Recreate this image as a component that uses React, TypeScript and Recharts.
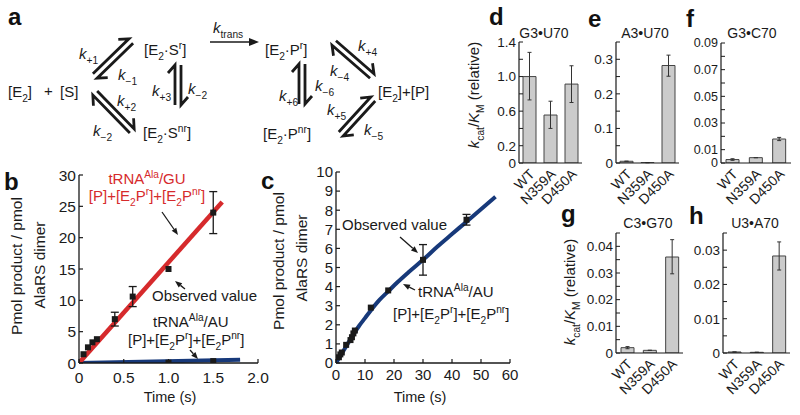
import React from "react";
import { ComposedChart, BarChart, Bar, Line, Scatter, XAxis, YAxis, ErrorBar } from "recharts";

const FONT = '"Liberation Sans", Arial, Helvetica, sans-serif';
const RED = "#d62a2c";
const NAVY = "#17397a";
const INK = "#1a1a1a";

// ---------- panel b (tRNA GU vs AU, 0-2 s) ----------
const bTimeTicks = [0, 0.5, 1, 1.5, 2];
const bYTicks = [0, 5, 10, 15, 20, 25, 30];
const bGuFit = [{ t: 0, v: 0 }, { t: 1.6, v: 25.7 }];
const bAuFit = [{ t: 0, v: 0 }, { t: 1.8, v: 0.5 }];
const bGuObs = [
  { t: 0.05, v: 1.4 }, { t: 0.1, v: 2.5 }, { t: 0.15, v: 3.3 }, { t: 0.2, v: 3.8 }, { t: 1.0, v: 15.0 },
];
const bGuObsErr = [
  { t: 0.4, v: 7.0, err: 1.1 }, { t: 0.6, v: 10.6, err: 1.6 }, { t: 1.5, v: 24.0, err: 3.35 },
];
const bAuObs = [{ t: 1.0, v: 0.05 }, { t: 1.5, v: 0.3 }];

// ---------- panel c (tRNA AU, 0-60 s) ----------
const cTimeTicks = [0, 10, 20, 30, 40, 50, 60];
const cYTicks = [0, 1, 2, 3, 4, 5, 6, 7, 8, 9, 10];
const cAuFit = [
  { t: 0, v: 0 }, { t: 2, v: 0.5 }, { t: 4, v: 1.0 }, { t: 6, v: 1.5 }, { t: 8, v: 1.95 },
  { t: 10, v: 2.35 }, { t: 12, v: 2.75 }, { t: 15, v: 3.3 }, { t: 18, v: 3.75 }, { t: 21, v: 4.2 },
  { t: 25, v: 4.75 }, { t: 30, v: 5.4 }, { t: 35, v: 6.1 }, { t: 40, v: 6.75 }, { t: 45, v: 7.4 },
  { t: 50, v: 8.05 }, { t: 55, v: 8.7 },
];
const cAuObs = [
  { t: 1, v: 0.3 }, { t: 1.5, v: 0.45 }, { t: 2, v: 0.55 }, { t: 3.5, v: 0.95 }, { t: 5, v: 1.2 },
  { t: 5.5, v: 1.35 }, { t: 6, v: 1.55 }, { t: 6.5, v: 1.7 }, { t: 12, v: 2.9 }, { t: 18, v: 3.8 },
];
const cAuObsErr = [{ t: 30, v: 5.4, err: 0.8 }, { t: 45, v: 7.5, err: 0.28 }];

// ---------- bar panels d-h ----------
const mutants = ["WT", "N359A", "D450A"];
const dVals = [1.0, 0.555, 0.913];
const dErr = [[0.27, 0.28], [0.155, 0.16], [0.213, 0.212]];
const dTicks = [0, 0.2, 0.4, 0.6, 0.8, 1.0, 1.2, 1.4];
const dTickText = ["0", "0.2", "", "0.6", "", "1.0", "", "1.4"];

const eVals = [0.005, 0.001, 0.282];
const eErr = [[0, 0], [0, 0], [0.031, 0.03]];
const eTicks = [0, 0.05, 0.1, 0.15, 0.2, 0.25, 0.3, 0.35];
const eTickText = ["0", "", "0.1", "", "0.2", "", "0.3", ""];

const fVals = [0.0026, 0.004, 0.018];
const fErr = [[0.0006, 0.0006], [0, 0], [0.0012, 0.0012]];
const fTicks = [0, 0.01, 0.02, 0.03, 0.04, 0.05, 0.06, 0.07, 0.08, 0.09];
const fTickText = ["0", "0.01", "", "0.03", "", "0.05", "", "0.07", "", "0.09"];

const gVals = [0.002, 0.001, 0.036];
const gErr = [[0.0004, 0.0004], [0, 0], [0.0063, 0.0065]];
const gTicks = [0, 0.005, 0.01, 0.015, 0.02, 0.025, 0.03, 0.035, 0.04, 0.045];
const gTickText = ["0", "", "0.01", "", "0.02", "", "0.03", "", "0.04", ""];

const hVals = [0.0003, 0.0002, 0.0283];
const hErr = [[0, 0], [0, 0], [0.0041, 0.0041]];
const hTicks = [0, 0.005, 0.01, 0.015, 0.02, 0.025, 0.03, 0.035];
const hTickText = ["0", "", "0.01", "", "0.02", "", "0.03", ""];

// ---------- helpers ----------
type Plot = { l: number; r: number; t: number; b: number };
const MT = 10, MR = 15;

function place(p: Plot, yw: number, xh: number) {
  return {
    style: { position: "absolute" as const, left: p.l - yw, top: p.t - MT },
    width: p.r - p.l + yw + MR,
    height: p.b - p.t + MT + xh,
  };
}

const Square = (props: any) => {
  const { cx, cy } = props;
  if (cx == null || cy == null) return null;
  return <rect x={cx - 3} y={cy - 3} width={6} height={6} fill={INK} />;
};

const RotTick = (props: any) => {
  const { x, y, payload } = props;
  const ax = x + 6, ay = y + 12;
  return (
    <text x={ax} y={ay} transform={`rotate(-45, ${ax}, ${ay})`} textAnchor="end"
      fontSize={14} fontFamily={FONT} fill={INK}>{payload.value}</text>
  );
};

function BarPanel(props: { plot: Plot; vals: number[]; errs: number[][]; ticks: number[]; text: string[]; fs?: number }) {
  const { plot, vals, errs, ticks, text, fs = 13.5 } = props;
  const data = mutants.map((name, i) => ({ name, v: vals[i], e: errs[i] }));
  const yw = 40, xh = 50;
  const pl = place(plot, yw, xh);
  return (
    <div style={pl.style}>
      <BarChart width={pl.width} height={pl.height} data={data}
        margin={{ top: MT, right: MR, left: 0, bottom: 0 }} barCategoryGap="20%">
        <XAxis dataKey="name" type="category" height={xh} interval={0} tickLine={false}
          tickSize={0} tickMargin={0} tick={<RotTick />} axisLine={{ stroke: INK, strokeWidth: 1.2 }} />
        <YAxis width={yw} type="number" domain={[ticks[0], ticks[ticks.length - 1]]} ticks={ticks}
          allowDataOverflow interval={0} tickSize={-4} tickMargin={7}
          tickFormatter={(v: number) => { const i = ticks.findIndex((t) => Math.abs(t - v) < 1e-9); return i >= 0 ? text[i] : ""; }}
          tick={{ fontSize: fs, fontFamily: FONT, fill: INK }}
          axisLine={{ stroke: INK, strokeWidth: 1.2 }} tickLine={{ stroke: INK, strokeWidth: 1 }} />
        <Bar dataKey="v" fill="#cbcbcb" stroke="#444" strokeWidth={1} barSize={13} isAnimationActive={false}>
          <ErrorBar dataKey="e" direction="y" width={2} stroke="#333" strokeWidth={1} />
        </Bar>
      </BarChart>
    </div>
  );
}

type Part = [string, string?];
function Rich(props: { x: number; y: number; parts: Part[]; size?: number; fill?: string; anchor?: string; transform?: string; weight?: string }) {
  const { x, y, parts, size = 15, fill = INK, anchor = "start", transform, weight } = props;
  let cur = 0;
  return (
    <text x={x} y={y} fontSize={size} fill={fill} textAnchor={anchor as any} fontFamily={FONT}
      transform={transform} fontWeight={weight}>
      {parts.map(([s, k = "n"], i) => {
        const small = k === "sub" || k === "sup";
        const target = k === "sub" ? size * 0.3 : k === "sup" ? -size * 0.4 : 0;
        const dy = target - cur;
        cur = target;
        return (
          <tspan key={i} dy={dy} fontSize={small ? size * 0.68 : size} fontStyle={k === "i" ? "italic" : "normal"}>{s}</tspan>
        );
      })}
    </text>
  );
}

function Harpoons({ x1, y1, x2, y2, gap = 6 }: { x1: number; y1: number; x2: number; y2: number; gap?: number }) {
  const dx = x2 - x1, dy = y2 - y1;
  const len = Math.hypot(dx, dy);
  const ux = dx / len, uy = dy / len;
  const nx = -uy, ny = ux;
  const g = gap / 2, L = 8, W = 7;
  const pA = [x1 - nx * g, y1 - ny * g], pB = [x2 - nx * g, y2 - ny * g];
  const qA = [x1 + nx * g, y1 + ny * g], qB = [x2 + nx * g, y2 + ny * g];
  const pBarb = [pB[0] - ux * L - nx * W, pB[1] - uy * L - ny * W];
  const qBarb = [qA[0] + ux * L + nx * W, qA[1] + uy * L + ny * W];
  const d = `M${pA[0]},${pA[1]} L${pB[0]},${pB[1]} L${pBarb[0]},${pBarb[1]} M${qB[0]},${qB[1]} L${qA[0]},${qA[1]} L${qBarb[0]},${qBarb[1]}`;
  return <path d={d} stroke={INK} strokeWidth={2.8} fill="none" strokeLinejoin="miter" />;
}

function Arrow({ x1, y1, x2, y2, head = 7, w = 2.8, sw = 1.3 }: { x1: number; y1: number; x2: number; y2: number; head?: number; w?: number; sw?: number }) {
  const dx = x2 - x1, dy = y2 - y1;
  const len = Math.hypot(dx, dy);
  const ux = dx / len, uy = dy / len;
  const bx = x2 - ux * head, by = y2 - uy * head;
  const pts = `${x2},${y2} ${bx - uy * w},${by + ux * w} ${bx + uy * w},${by - ux * w}`;
  return (
    <g>
      <line x1={x1} y1={y1} x2={bx} y2={by} stroke={INK} strokeWidth={sw} />
      <polygon points={pts} fill={INK} />
    </g>
  );
}

const species = (letter: string, sup?: string): Part[] =>
  sup ? [["[E"], ["2", "sub"], ["\u00B7" + letter], [sup, "sup"], ["]"]] : [["[E"], ["2", "sub"], ["]"]];
const kl = (s: string): Part[] => [["k", "i"], [s, "sub"]];
const kcatKm: Part[] = [["k", "i"], ["cat", "sub"], ["/"], ["K", "i"], ["M", "sub"], [" (relative)"]];
const prodLabel: Part[] = [["[P]+[E"], ["2", "sub"], ["P"], ["r", "sup"], ["]+[E"], ["2", "sub"], ["P"], ["nr", "sup"], ["]"]];
const trnaLabel = (pair: string): Part[] => [["tRNA"], ["Ala", "sup"], ["/" + pair]];

const bPlot: Plot = { l: 79, r: 258, t: 175, b: 363 };
const cPlot: Plot = { l: 336, r: 510, t: 172, b: 363 };

function TimeChart(props: { plot: Plot; xTicks: number[]; yTicks: number[]; fmt: (v: number) => string; ySize: number; yMargin: number; xMargin: number; children: React.ReactNode }) {
  const { plot, xTicks, yTicks, fmt, ySize, yMargin, xMargin, children } = props;
  const yw = 40, xh = 30;
  const pl = place(plot, yw, xh);
  return (
    <div style={pl.style}>
      <ComposedChart width={pl.width} height={pl.height} margin={{ top: MT, right: MR, left: 0, bottom: 0 }}>
        <XAxis dataKey="t" type="number" domain={[xTicks[0], xTicks[xTicks.length - 1]]} ticks={xTicks}
          allowDataOverflow interval={0} height={xh} tickSize={-4} tickMargin={xMargin} tickFormatter={fmt}
          tick={{ fontSize: ySize, fontFamily: FONT, fill: INK }}
          axisLine={{ stroke: INK, strokeWidth: 1.3 }} tickLine={{ stroke: INK, strokeWidth: 1.2 }} />
        <YAxis dataKey="v" type="number" width={yw} domain={[yTicks[0], yTicks[yTicks.length - 1]]} ticks={yTicks}
          allowDataOverflow interval={0} tickSize={-4} tickMargin={yMargin}
          tick={{ fontSize: ySize, fontFamily: FONT, fill: INK }}
          axisLine={{ stroke: INK, strokeWidth: 1.3 }} tickLine={{ stroke: INK, strokeWidth: 1.2 }} />
        {children}
      </ComposedChart>
    </div>
  );
}

export default function App() {
  return (
    <div style={{ position: "absolute", left: 0, top: 0, width: 800, height: 415, background: "#fff", overflow: "hidden" }}>
      <TimeChart plot={bPlot} xTicks={bTimeTicks} yTicks={bYTicks} fmt={(v) => (v === 0 ? "0" : v.toFixed(1))}
        ySize={15.5} yMargin={7} xMargin={13}>
        <Line data={bAuFit} dataKey="v" type="linear" stroke={NAVY} strokeWidth={4} dot={false} isAnimationActive={false} />
        <Line data={bGuFit} dataKey="v" type="linear" stroke={RED} strokeWidth={4.5} dot={false} isAnimationActive={false} />
        <Scatter data={bAuObs} dataKey="v" shape={<Square />} isAnimationActive={false} />
        <Scatter data={bGuObs} dataKey="v" shape={<Square />} isAnimationActive={false} />
        <Scatter data={bGuObsErr} dataKey="v" shape={<Square />} isAnimationActive={false}>
          <ErrorBar dataKey="err" direction="y" width={4} stroke={INK} strokeWidth={1.3} />
        </Scatter>
      </TimeChart>

      <TimeChart plot={cPlot} xTicks={cTimeTicks} yTicks={cYTicks} fmt={(v) => String(v)}
        ySize={15} yMargin={7} xMargin={10}>
        <Line data={cAuFit} dataKey="v" type="monotone" stroke={NAVY} strokeWidth={4} dot={false} isAnimationActive={false} />
        <Scatter data={cAuObs} dataKey="v" shape={<Square />} isAnimationActive={false} />
        <Scatter data={cAuObsErr} dataKey="v" shape={<Square />} isAnimationActive={false}>
          <ErrorBar dataKey="err" direction="y" width={4} stroke={INK} strokeWidth={1.3} />
        </Scatter>
      </TimeChart>

      <BarPanel plot={{ l: 519, r: 582, t: 42, b: 163 }} vals={dVals} errs={dErr} ticks={dTicks} text={dTickText} />
      <BarPanel plot={{ l: 616, r: 679, t: 42, b: 163 }} vals={eVals} errs={eErr} ticks={eTicks} text={eTickText} />
      <BarPanel plot={{ l: 721, r: 791, t: 43, b: 163 }} vals={fVals} errs={fErr} ticks={fTicks} text={fTickText} fs={12.5} />
      <BarPanel plot={{ l: 616, r: 683, t: 233, b: 353 }} vals={gVals} errs={gErr} ticks={gTicks} text={gTickText} />
      <BarPanel plot={{ l: 723, r: 790, t: 233, b: 353 }} vals={hVals} errs={hErr} ticks={hTicks} text={hTickText} />

      <svg width={800} height={415} style={{ position: "absolute", left: 0, top: 0, pointerEvents: "none" }}>
        {/* panel letters */}
        <g fontFamily={FONT} fontWeight="bold" fontSize={24} fill="#111">
          <text x={8} y={25}>a</text>
          <text x={4} y={190}>b</text>
          <text x={261} y={189}>c</text>
          <text x={489} y={25}>d</text>
          <text x={588} y={27}>e</text>
          <text x={686} y={27}>f</text>
          <text x={561} y={222}>g</text>
          <text x={689} y={224}>h</text>
        </g>

        {/* scheme a */}
        <Rich x={8} y={97} parts={species("")} />
        <text x={44} y={96} fontFamily={FONT} fontSize={15} fill={INK}>+</text>
        <Rich x={60} y={97} parts={[["[S]"]]} />
        <Rich x={144} y={55} parts={species("S", "r")} />
        <Rich x={143} y={138} parts={species("S", "nr")} />
        <Rich x={265} y={55} parts={species("P", "r")} />
        <Rich x={263} y={139} parts={species("P", "nr")} />
        <Rich x={378} y={97} parts={[["[E"], ["2", "sub"], ["]+[P]"]]} />

        <Harpoons x1={95} y1={76} x2={131} y2={41} />
        <Harpoons x1={132} y1={131} x2={95} y2={93} />
        <Harpoons x1={178} y1={105} x2={178} y2={65} />
        <Harpoons x1={302} y1={104} x2={302} y2={64} />
        <Harpoons x1={372} y1={76} x2={334} y2={43} />
        <Harpoons x1={341} y1={134} x2={373} y2={99} />
        <Arrow x1={210} y1={42} x2={259} y2={42} head={10} w={4} sw={1.6} />

        <Rich x={79} y={59} parts={kl("+1")} />
        <Rich x={118} y={80} parts={kl("\u22121")} />
        <Rich x={117} y={106} parts={kl("+2")} />
        <Rich x={93} y={136} parts={kl("\u22122")} />
        <Rich x={152} y={96} parts={kl("+3")} />
        <Rich x={188} y={94} parts={kl("\u22122")} />
        <Rich x={213} y={33} parts={kl("trans")} />
        <Rich x={358} y={51} parts={kl("+4")} />
        <Rich x={330} y={76} parts={kl("\u22124")} />
        <Rich x={279} y={101} parts={kl("+6")} />
        <Rich x={315} y={91} parts={kl("\u22126")} />
        <Rich x={327} y={115} parts={kl("+5")} />
        <Rich x={364} y={135} parts={kl("\u22125")} />

        {/* panel b annotations */}
        <Rich x={147} y={184} anchor="middle" parts={trnaLabel("GU")} fill={RED} />
        <Rich x={147} y={201} anchor="middle" parts={prodLabel} fill={RED} />
        <Arrow x1={162} y1={212} x2={178} y2={235} />
        <text x={152} y={301} fontFamily={FONT} fontSize={15} fill={INK}>Observed value</text>
        <Arrow x1={185} y1={289} x2={175} y2={281} />
        <Rich x={153} y={327} parts={trnaLabel("AU")} />
        <Rich x={128} y={345} parts={prodLabel} />
        <Arrow x1={190} y1={350} x2={198} y2={359} />

        {/* panel c annotations */}
        <text x={342} y={230} fontFamily={FONT} fontSize={15} fill={INK}>Observed value</text>
        <Arrow x1={400} y1={237} x2={418} y2={253} />
        <Arrow x1={415} y1={290} x2={403} y2={284} />
        <Rich x={418} y={297} parts={trnaLabel("AU")} />
        <Rich x={393} y={319} parts={prodLabel} />

        {/* axis titles b, c */}
        <g fontFamily={FONT} fontSize={15.5} fill={INK} textAnchor="middle">
          <text x={21.5} y={266} transform="rotate(-90 21.5 266)">Pmol product / pmol</text>
          <text x={45} y={265} transform="rotate(-90 45 265)">AlaRS dimer</text>
          <text x={284} y={261} transform="rotate(-90 284 261)">Pmol product / pmol</text>
          <text x={307} y={258} transform="rotate(-90 307 258)">AlaRS dimer</text>
          <text x={170} y={402} fontSize={14.5}>Time (s)</text>
          <text x={420} y={402} fontSize={14.5}>Time (s)</text>
        </g>

        {/* bar panel titles and axis titles */}
        <g fontFamily={FONT} fontSize={14} fill={INK} textAnchor="middle">
          <text x={544} y={38}>G3{"\u2022"}U70</text>
          <text x={645} y={38}>A3{"\u2022"}U70</text>
          <text x={752} y={38}>G3{"\u2022"}C70</text>
          <text x={648} y={228}>C3{"\u2022"}G70</text>
          <text x={755} y={228}>U3{"\u2022"}A70</text>
        </g>
        <Rich x={479} y={95} anchor="middle" parts={kcatKm} transform="rotate(-90 479 95)" />
        <Rich x={575} y={292} anchor="middle" parts={kcatKm} transform="rotate(-90 575 292)" />
      </svg>
    </div>
  );
}
